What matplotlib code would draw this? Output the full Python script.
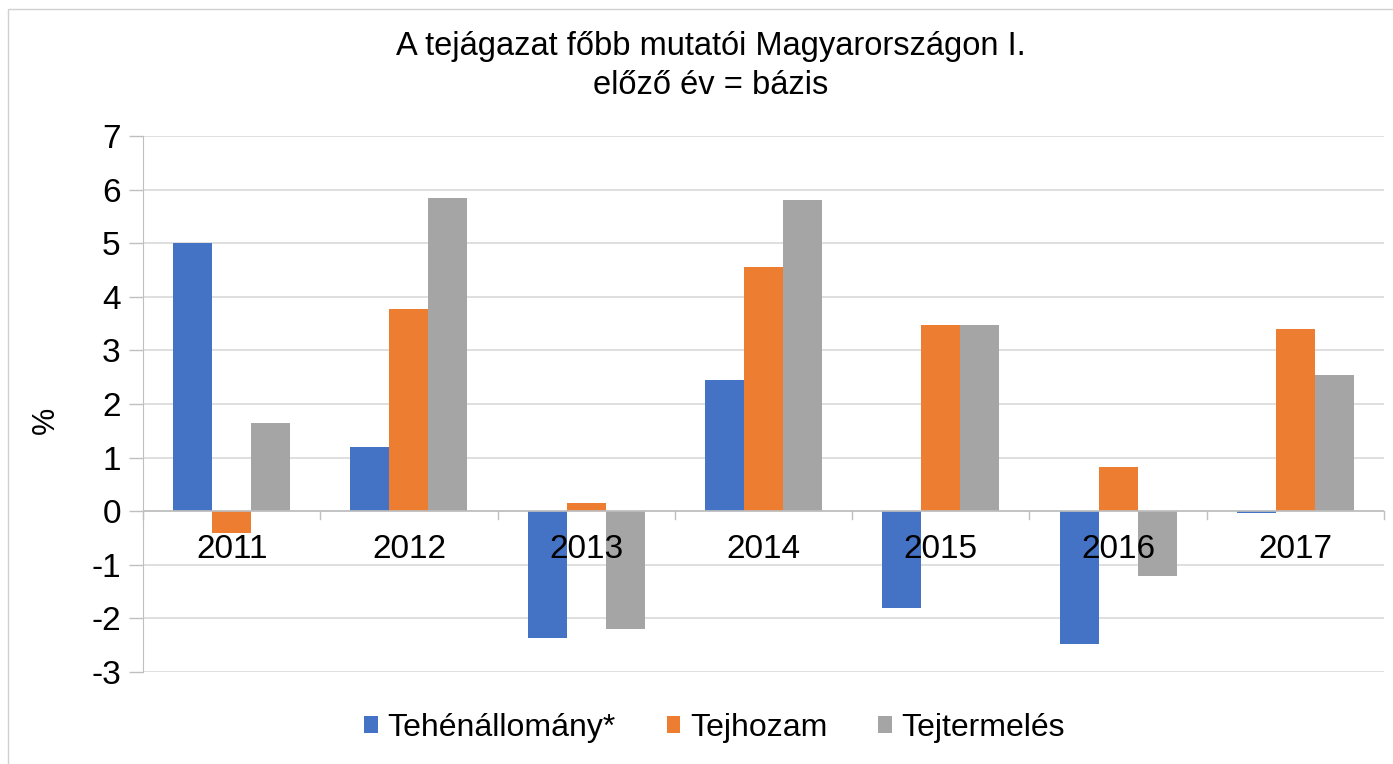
import numpy as np
import matplotlib
matplotlib.use("Agg")
from matplotlib import pyplot as plt, patches

years = ["2011", "2012", "2013", "2014", "2015", "2016", "2017"]
tehenallomany = [5.0, 1.2, -2.37, 2.45, -1.8, -2.48, -0.03]
tejhozam = [-0.4, 3.78, 0.15, 4.55, 3.48, 0.82, 3.4]
tejtermeles = [1.65, 5.85, -2.2, 5.8, 3.48, -1.2, 2.55]

series_names = ["Tehénállomány*", "Tejhozam", "Tejtermelés"]
series_colors = ["#4472C4", "#ED7D31", "#A5A5A5"]

plt.rcParams["font.family"] = ["Liberation Sans", "DejaVu Sans"]
plt.rcParams["axes.unicode_minus"] = False

W, H = 1393, 764
fig = plt.figure(figsize=(W / 100, H / 100), dpi=100)
ax = fig.add_axes([143 / W, 1 - 672 / H, (1384 - 143) / W, (672 - 136) / H])

# light frame around chart area
fig.patches.append(
    patches.Rectangle((8 / W, -0.1), 1.2, 1 - 9 / H + 0.1, transform=fig.transFigure,
                      facecolor="none", edgecolor="#d0d0d0", linewidth=1)
)

x = np.arange(len(years))
bw = 0.22
for i, (vals, name, col) in enumerate(zip([tehenallomany, tejhozam, tejtermeles], series_names, series_colors)):
    ax.bar(x + (i - 1) * bw, vals, bw, color=col, label=name, zorder=3)

ax.set_xlim(-0.5, len(years) - 0.5)
ax.set_ylim(-3, 7)
ax.set_yticks(range(-3, 8))
ax.tick_params(axis="y", labelsize=24, length=10, color="#bfbfbf", width=1, pad=6)
ax.grid(axis="y", color="#d9d9d9", linewidth=1.2, zorder=0)

for s in ["top", "right", "bottom"]:
    ax.spines[s].set_visible(False)
ax.spines["left"].set_color("#bfbfbf")

# category axis at zero
ax.axhline(0, color="#bfbfbf", linewidth=1.2, zorder=4)
ax.set_xticks([])
for b in np.arange(-0.5, len(years) + 0.5, 1.0):
    ax.plot([b, b], [0, -0.15], color="#bfbfbf", linewidth=1, zorder=4, clip_on=False)
for xi, yr in zip(x, years):
    ax.text(xi, -0.72, yr, ha="center", va="center", fontsize=24, zorder=5)

ax.set_ylabel("%", fontsize=22)
ax.yaxis.set_label_coords(-0.066, 0.47)

fig.text(0.51, 1 - 47 / H, "A tejágazat főbb mutatói Magyarországon I.", ha="center", va="center", fontsize=23.5)
fig.text(0.51, 1 - 85 / H, "előző év = bázis", ha="center", va="center", fontsize=23.5)

fig.legend(loc="center", bbox_to_anchor=(0.513, 1 - 728 / H), ncol=3, frameon=False, fontsize=23,
           handlelength=0.42, handleheight=0.42, handletextpad=0.3, columnspacing=1.6)

fig.savefig("out.png", dpi=100)
